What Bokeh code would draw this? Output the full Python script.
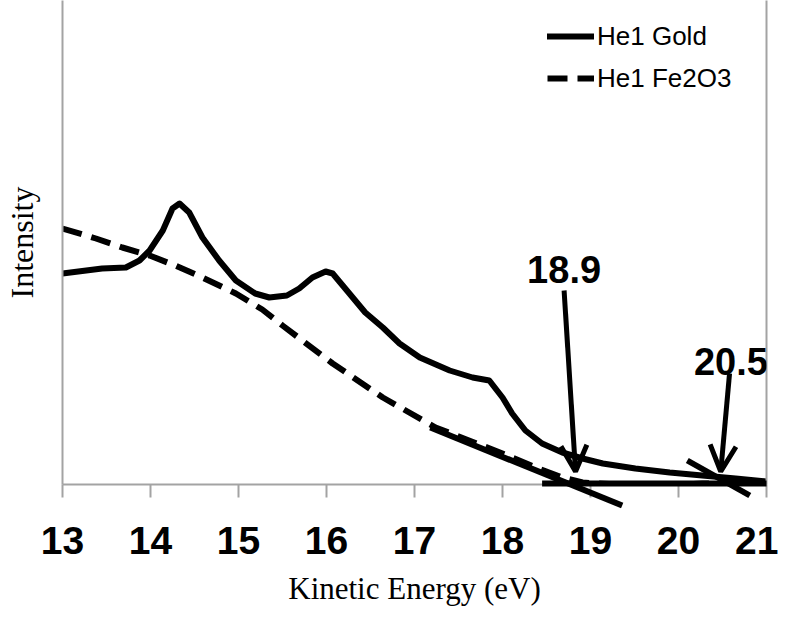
from bokeh.plotting import figure
from bokeh.models import (Range1d, LinearAxis, FixedTicker, Label, Arrow, OpenHead,
                          Legend, LegendItem)
from bokeh.embed import file_html
from bokeh.resources import INLINE

# ---- data (intensity in arbitrary units) ----
gold_energy = [13.00, 13.45, 13.72, 13.875, 13.99, 14.14, 14.25, 14.33, 14.44, 14.59,
               14.78, 14.97, 15.19, 15.35, 15.55, 15.69, 15.84, 15.99, 16.07, 16.26,
               16.44, 16.64, 16.83, 17.06, 17.40, 17.66, 17.85, 18.00, 18.11, 18.26,
               18.45, 18.68, 18.91, 19.14, 19.51, 19.90, 20.27, 20.65, 21.00]
gold_intensity = [211, 216, 217, 224, 234, 254, 276, 281, 272, 247,
                  224, 204, 191, 187, 189, 196, 207, 213, 211, 191,
                  172, 157, 141, 127, 114, 107, 104, 87, 71, 54,
                  41, 32, 26, 21, 16, 12, 9, 6, 3]

fe2o3_energy = [13.00, 13.38, 13.68, 13.99, 14.28, 14.59, 14.97, 15.27, 15.50, 16.07,
                16.64, 17.24, 17.62, 18.00, 18.38, 18.68, 18.91, 19.50, 19.90, 20.27,
                20.65, 21.00]
fe2o3_intensity = [256, 246, 237, 229, 219, 207, 191, 175, 159, 121,
                   87, 57, 44, 31, 17, 7, 2, -1, -1, 1,
                   1, 1]

x_ticks = [13, 14, 15, 16, 17, 18, 19, 20, 21]

# tangent / baseline construction lines
tangent_x = [[17.18, 19.36], [20.10, 20.81], [18.45, 21.00]]
tangent_y = [[57, -21], [24, -11], [1, 1]]

# onset annotations
onset_labels = ["18.9", "20.5"]
onset_label_x = [18.70, 20.595]
onset_label_y = [215, 123]
arrow_tail_x = [18.70, 20.58]
arrow_tail_y = [194, 111]
arrow_tip_x = [18.83, 20.48]
arrow_tip_y = [13, 13]

AXIS_GRAY = "#a3a3a3"

p = figure(width=778, height=609, output_backend="svg", toolbar_location=None,
           x_range=Range1d(13, 21), y_range=Range1d(0, 484),
           min_border_left=60, min_border_right=12, min_border_top=0,
           min_border_bottom=125, x_axis_location=None, y_axis_location=None)
p.grid.visible = False
p.outline_line_color = None
p.background_fill_color = "white"

# bottom axis
xax = LinearAxis(ticker=FixedTicker(ticks=x_ticks), axis_label="Kinetic Energy (eV)")
xax.axis_line_color = AXIS_GRAY
xax.axis_line_width = 2
xax.major_tick_line_color = AXIS_GRAY
xax.major_tick_line_width = 2
xax.major_tick_out = 13
xax.major_tick_in = 0
xax.minor_tick_line_color = None
xax.major_label_text_font = "Liberation Sans"
xax.major_label_text_font_style = "bold"
xax.major_label_text_font_size = "39px"
xax.major_label_text_color = "black"
xax.major_label_standoff = 29
xax.axis_label_text_font = "Liberation Serif"
xax.axis_label_text_font_style = "normal"
xax.axis_label_text_font_size = "31px"
xax.axis_label_text_color = "black"
xax.axis_label_standoff = 14
p.add_layout(xax, "below")

# left axis (no ticks)
yax = LinearAxis(ticker=FixedTicker(ticks=[]), axis_label="Intensity")
yax.axis_line_color = AXIS_GRAY
yax.axis_line_width = 2
yax.major_tick_line_color = None
yax.minor_tick_line_color = None
yax.major_label_text_font_size = "0px"
yax.axis_label_text_font = "Liberation Serif"
yax.axis_label_text_font_style = "normal"
yax.axis_label_text_font_size = "32px"
yax.axis_label_text_color = "black"
yax.axis_label_standoff = 23
p.add_layout(yax, "left")

# right frame line
rax = LinearAxis(ticker=FixedTicker(ticks=[]))
rax.axis_line_color = AXIS_GRAY
rax.axis_line_width = 2
rax.major_tick_line_color = None
rax.minor_tick_line_color = None
rax.major_label_text_font_size = "0px"
p.add_layout(rax, "right")

# curves
r_gold = p.line(gold_energy, gold_intensity, line_color="black", line_width=6,
                line_join="round", line_cap="round")
r_fe = p.line(fe2o3_energy, fe2o3_intensity, line_color="black", line_width=6,
              line_dash="20 10", line_join="round")

# tangent lines
r_tan = p.multi_line(tangent_x, tangent_y, line_color="black", line_width=6, line_cap="butt")
r_tan.level = "overlay"

# arrows and labels
for i in range(len(onset_labels)):
    p.add_layout(Arrow(end=OpenHead(size=26, line_width=5, line_color="black"),
                       x_start=arrow_tail_x[i], y_start=arrow_tail_y[i],
                       x_end=arrow_tip_x[i], y_end=arrow_tip_y[i],
                       line_width=5, line_color="black"))
    lab = Label(x=onset_label_x[i], y=onset_label_y[i], text=onset_labels[i],
                text_align="center", text_baseline="middle",
                text_font="Liberation Sans", text_font_style="bold",
                text_font_size="38px", text_color="black")
    lab.level = "overlay"
    p.add_layout(lab)

legend = Legend(items=[LegendItem(label="He1 Gold", renderers=[r_gold]),
                       LegendItem(label="He1 Fe2O3", renderers=[r_fe])],
                location=(485, 385), orientation="vertical",
                glyph_width=47, glyph_height=42, label_height=42, spacing=0,
                padding=0, margin=0, label_standoff=3,
                label_text_font="Liberation Sans", label_text_font_size="26px",
                label_text_color="black", border_line_color=None,
                background_fill_alpha=0)
p.add_layout(legend)

open("out.html", "w").write(file_html(p, INLINE))
